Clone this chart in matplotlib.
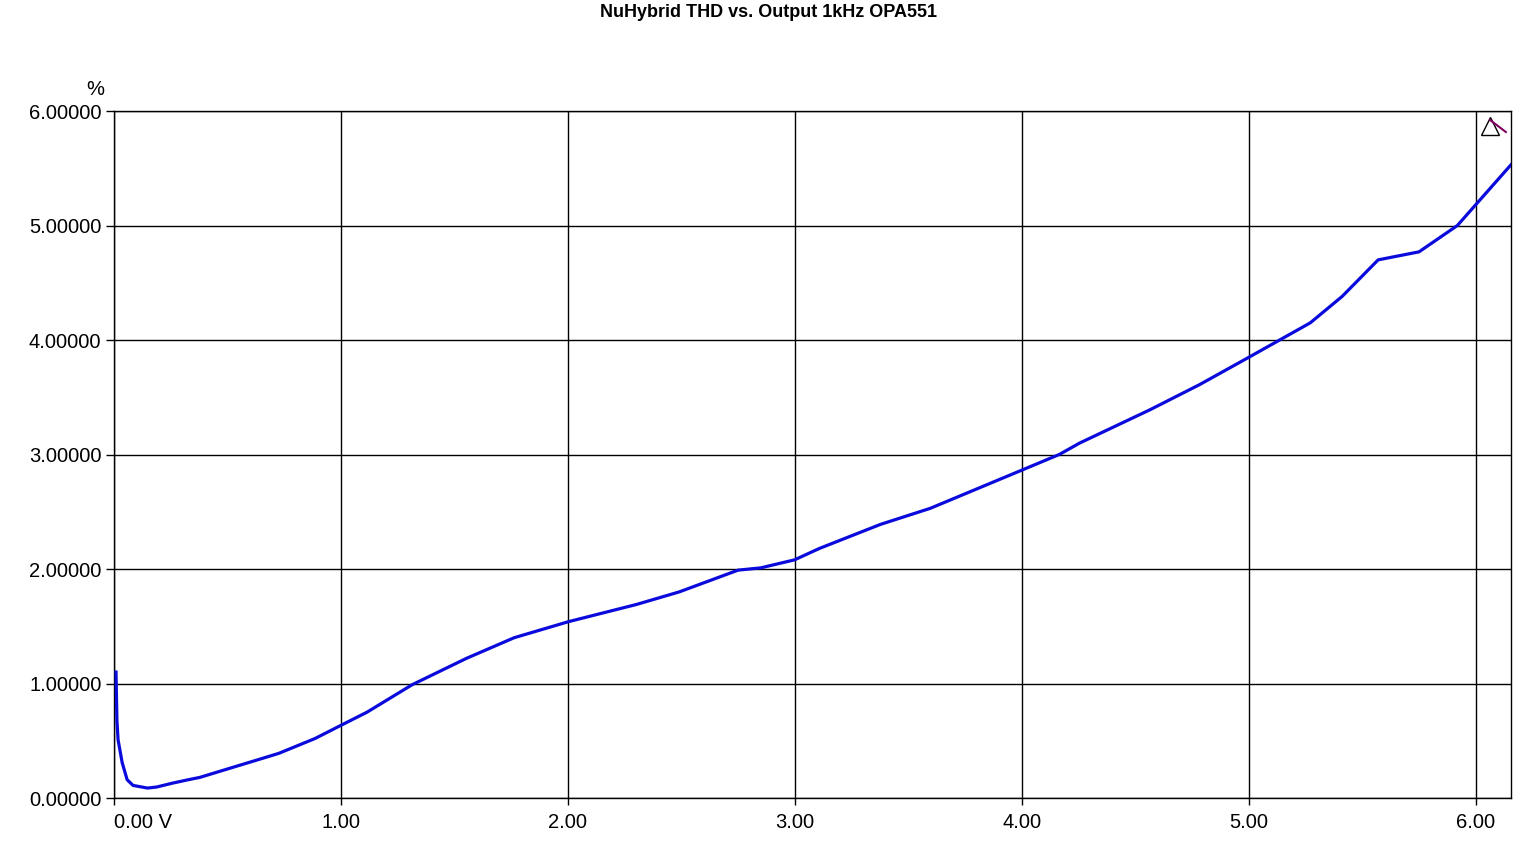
import numpy as np
import matplotlib.pyplot as plt

plt.rcParams['font.family'] = ['Liberation Sans', 'DejaVu Sans']

# output voltage (V) and THD (%)
volts = [0.009, 0.013, 0.018, 0.036, 0.058, 0.084, 0.148, 0.188, 0.258, 0.328,
         0.378, 0.527, 0.627, 0.726, 0.886, 1.005, 1.115, 1.314, 1.553, 1.763,
         2.002, 2.301, 2.490, 2.749, 2.849, 2.998, 3.108, 3.377, 3.596, 3.995,
         4.164, 4.254, 4.563, 4.782, 4.991, 5.270, 5.410, 5.569, 5.749, 5.918,
         6.154]
thd = [1.10, 0.68, 0.51, 0.31, 0.16, 0.11, 0.087, 0.096, 0.13, 0.16, 0.18,
       0.27, 0.33, 0.39, 0.52, 0.64, 0.75, 0.99, 1.22, 1.40, 1.54, 1.69,
       1.80, 1.99, 2.01, 2.08, 2.18, 2.39, 2.53, 2.86, 3.00, 3.10, 3.39,
       3.61, 3.84, 4.15, 4.38, 4.70, 4.77, 5.00, 5.53]

xticks = [0, 1, 2, 3, 4, 5, 6]
xlabels = ["0.00 V", "1.00", "2.00", "3.00", "4.00", "5.00", "6.00"]
yticks = [0, 1, 2, 3, 4, 5, 6]
ylabels = ["%.5f" % v for v in yticks]

fig = plt.figure(figsize=[15.38, 8.66], dpi=100)
ax = fig.add_axes([0.0741, 0.0785, 0.9083, 0.7933])

ax.plot(volts, thd, color="#0a0adc", lw=2.3, zorder=3)

ax.set_xlim(0, 6.154)
ax.set_ylim(0, 6)
ax.set_xticks(xticks)
ax.set_xticklabels(xlabels)
ax.set_yticks(yticks)
ax.set_yticklabels(ylabels)
ax.get_xticklabels()[0].set_ha("left")

fsz = 14.5
ax.tick_params(axis="both", labelsize=fsz, color="black", width=1)
ax.tick_params(axis="y", length=6, pad=3)
ax.tick_params(axis="x", length=5, pad=6)
ax.grid(True, color="black", lw=1)
for s in ax.spines.values():
    s.set_color("black")
    s.set_linewidth(1)

ax.text(-0.0136, 1.018, "%", transform=ax.transAxes, fontsize=fsz, ha="center", va="bottom")
fig.text(0.5, 0.986, "NuHybrid THD vs. Output 1kHz OPA551", ha="center", va="center",
         fontsize=13, fontweight="bold")

# cursor marker in the corner
ax.plot([0.985], [0.978], marker="^", markersize=13, mfc="none", mec="black", mew=1,
        transform=ax.transAxes, clip_on=False)
ax.plot([0.985, 0.9964], [0.987, 0.9694], color="#800060", lw=1.5, transform=ax.transAxes)

fig.savefig("out.png", dpi=100)
